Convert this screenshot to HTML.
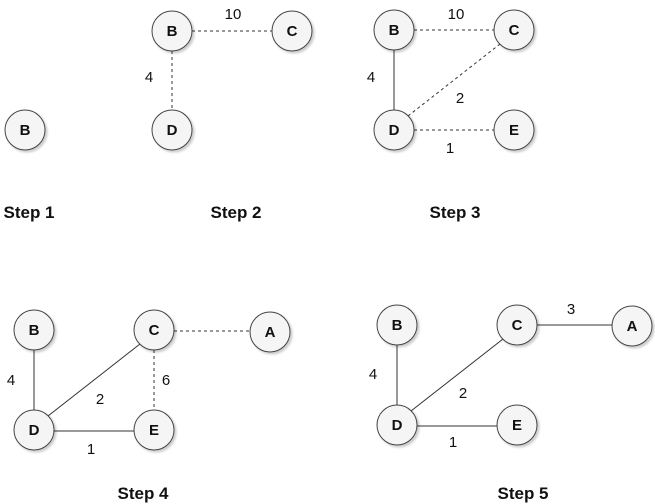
<!DOCTYPE html>
<html><head><meta charset="utf-8"><style>html,body{margin:0;padding:0;background:#fff}svg{display:block}</style></head><body>
<svg width="655" height="504" viewBox="0 0 655 504" xmlns="http://www.w3.org/2000/svg" font-family="Liberation Sans, Arial, sans-serif">
<defs><filter id="s" x="-30%" y="-30%" width="160%" height="160%"><feDropShadow dx="2" dy="2" stdDeviation="1" flood-color="#000" flood-opacity="0.2"/></filter></defs>
<g stroke="#333" stroke-width="1" fill="none">
<line x1="192" y1="31" x2="272" y2="31" stroke-dasharray="3,3"/>
<line x1="172" y1="51" x2="172" y2="110" stroke-dasharray="3,3"/>
<line x1="414" y1="30" x2="494" y2="30" stroke-dasharray="3,3"/>
<line x1="394" y1="50" x2="394" y2="110"/>
<line x1="408" y1="116" x2="500" y2="44" stroke-dasharray="3,3"/>
<line x1="414" y1="130" x2="494" y2="130" stroke-dasharray="3,3"/>
<line x1="34" y1="350" x2="34" y2="410"/>
<line x1="48" y1="416" x2="140" y2="344"/>
<line x1="54" y1="431" x2="134" y2="431"/>
<line x1="154" y1="350" x2="154" y2="410" stroke-dasharray="3,3"/>
<line x1="174" y1="331" x2="250" y2="331" stroke-dasharray="3,3"/>
<line x1="397" y1="345" x2="397" y2="405"/>
<line x1="411" y1="411" x2="503" y2="339"/>
<line x1="417" y1="426" x2="497" y2="426"/>
<line x1="537" y1="325" x2="612" y2="325"/>
</g>
<g fill="#f5f5f5" stroke="#444" stroke-width="1" filter="url(#s)">
<circle cx="25" cy="130" r="20"/>
<circle cx="172" cy="31" r="20"/><circle cx="292" cy="31" r="20"/><circle cx="172" cy="130" r="20"/>
<circle cx="394" cy="30" r="20"/><circle cx="514" cy="30" r="20"/><circle cx="394" cy="130" r="20"/><circle cx="514" cy="130" r="20"/>
<circle cx="34" cy="330" r="20"/><circle cx="154" cy="330" r="20"/><circle cx="270" cy="332" r="20"/><circle cx="34" cy="430" r="20"/><circle cx="154" cy="430" r="20"/>
<circle cx="397" cy="325" r="20"/><circle cx="517" cy="325" r="20"/><circle cx="632" cy="326" r="20"/><circle cx="397" cy="425" r="20"/><circle cx="517" cy="425" r="20"/>
</g>
<g font-weight="bold" font-size="15" text-anchor="middle" fill="#111">
<text x="25" y="135">B</text>
<text x="172" y="36">B</text><text x="292" y="36">C</text><text x="172" y="135">D</text>
<text x="394" y="35">B</text><text x="514" y="35">C</text><text x="394" y="135">D</text><text x="514" y="135">E</text>
<text x="34" y="335">B</text><text x="154" y="335">C</text><text x="270" y="337">A</text><text x="34" y="435">D</text><text x="154" y="435">E</text>
<text x="397" y="330">B</text><text x="517" y="330">C</text><text x="632" y="331">A</text><text x="397" y="430">D</text><text x="517" y="430">E</text>
</g>
<g font-size="15" text-anchor="middle" fill="#111">
<text x="233" y="19">10</text><text x="149" y="82">4</text>
<text x="456" y="19">10</text><text x="371" y="82">4</text><text x="460" y="103">2</text><text x="450" y="153">1</text>
<text x="11" y="385">4</text><text x="100" y="404">2</text><text x="166" y="385">6</text><text x="91" y="454">1</text>
<text x="571" y="314">3</text><text x="373" y="379">4</text><text x="463" y="398">2</text><text x="453" y="447">1</text>
</g>
<g font-weight="bold" font-size="17" text-anchor="middle" fill="#111">
<text x="29" y="218">Step 1</text><text x="236" y="218">Step 2</text><text x="455" y="218">Step 3</text>
<text x="143" y="499">Step 4</text><text x="523" y="499">Step 5</text>
</g>
</svg>
</body></html>
